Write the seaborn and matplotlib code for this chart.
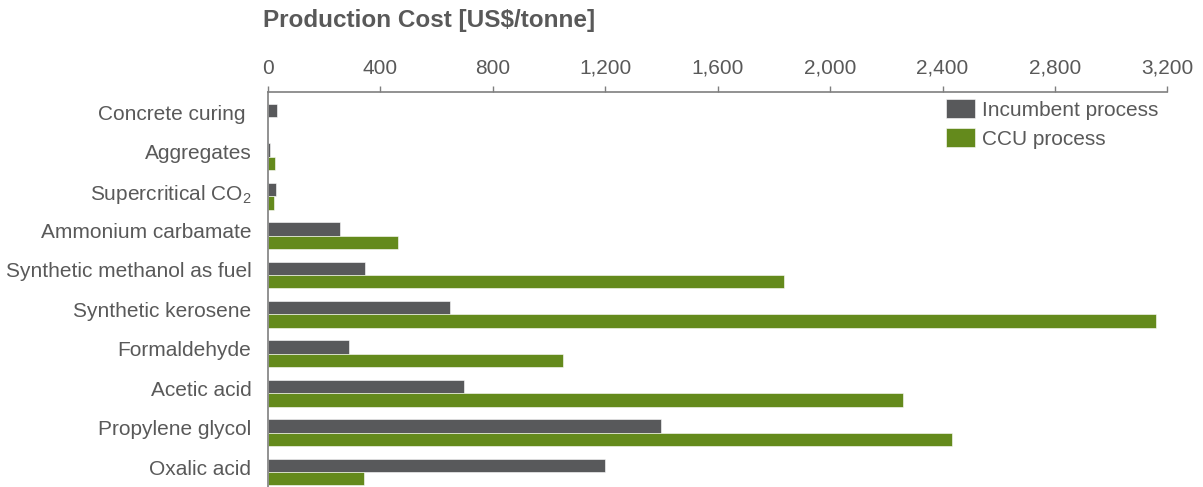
import numpy as np
import pandas as pd
import matplotlib
matplotlib.use("Agg")
import matplotlib.pyplot as plt
import matplotlib.transforms as mtransforms
from matplotlib.ticker import FuncFormatter, MultipleLocator
import seaborn as sns

# Production cost per product, US$/tonne
products = [
    "Concrete curing ",
    "Aggregates",
    r"Supercritical $\mathregular{CO_2}$",
    "Ammonium carbamate",
    "Synthetic methanol as fuel",
    "Synthetic kerosene",
    "Formaldehyde",
    "Acetic acid",
    "Propylene glycol",
    "Oxalic acid",
]
incumbent = [33, 6, 28, 256, 345, 648, 288, 699, 1400, 1200]
ccu = [np.nan, 25, 21, 461, 1835, 3159, 1048, 2258, 2434, 341]
series_names = ["Incumbent process", "CCU process"]

df = pd.DataFrame({
    "product": products * 2,
    "cost": incumbent + ccu,
    "process": [series_names[0]] * len(products) + [series_names[1]] * len(products),
})

sns.set_theme(style="white")
plt.rcParams["font.family"] = ["Liberation Sans", "DejaVu Sans"]
plt.rcParams["mathtext.fontset"] = "custom"
plt.rcParams["mathtext.rm"] = "Liberation Sans"

text_grey = "#595959"
line_grey = "#7f7f7f"
palette = {series_names[0]: "#58595b", series_names[1]: "#648a1c"}
fs = 15

W, H = 1203, 487
fig = plt.figure(figsize=(W / 100, H / 100), dpi=100)
ax = fig.add_axes([268 / W, 0.0, (1167.4 - 268) / W, (H - 91.7) / H])

sns.barplot(data=df, y="product", x="cost", hue="process", orient="h",
            palette=palette, width=0.68, saturation=1, ax=ax,
            edgecolor="white", linewidth=0.4)

ax.set_xlim(0, 3200)
ax.set_ylim(9.38, -0.65)
ax.xaxis.set_major_locator(MultipleLocator(400))
ax.xaxis.set_major_formatter(FuncFormatter(lambda v, p: f"{int(v):,}"))
ax.xaxis.tick_top()
ax.set_xlabel("")
ax.set_ylabel("")

for side in ["right", "bottom"]:
    ax.spines[side].set_visible(False)
for side in ["top", "left"]:
    ax.spines[side].set_color(line_grey)
    ax.spines[side].set_linewidth(1.2)

ax.tick_params(axis="x", which="major", direction="out", length=4, width=1,
               color=line_grey, pad=6, labelsize=fs, labelcolor=text_grey,
               top=True, bottom=False, labeltop=True, labelbottom=False)
ax.tick_params(axis="y", length=0, pad=12, labelsize=fs, labelcolor=text_grey)

# nudge category labels slightly upward
offset = mtransforms.ScaledTranslation(0, 5 / 100, fig.dpi_scale_trans)
for lab in ax.get_yticklabels():
    lab.set_transform(lab.get_transform() + offset)

handles, labels = ax.get_legend_handles_labels()
ax.legend(handles, labels, loc="upper left",
          bbox_to_anchor=(946 / W, 1 - 99 / H), bbox_transform=fig.transFigure,
          frameon=False, fontsize=fs, labelcolor=text_grey,
          handlelength=1.4, handleheight=1.05, handletextpad=0.34,
          labelspacing=0.4, borderpad=0, borderaxespad=0)

fig.text(263 / W, 1 - 20 / H, "Production Cost [US$/tonne]", ha="left",
         va="center", fontsize=17.5, fontweight="bold", color=text_grey)

fig.savefig("out.png", dpi=100)
